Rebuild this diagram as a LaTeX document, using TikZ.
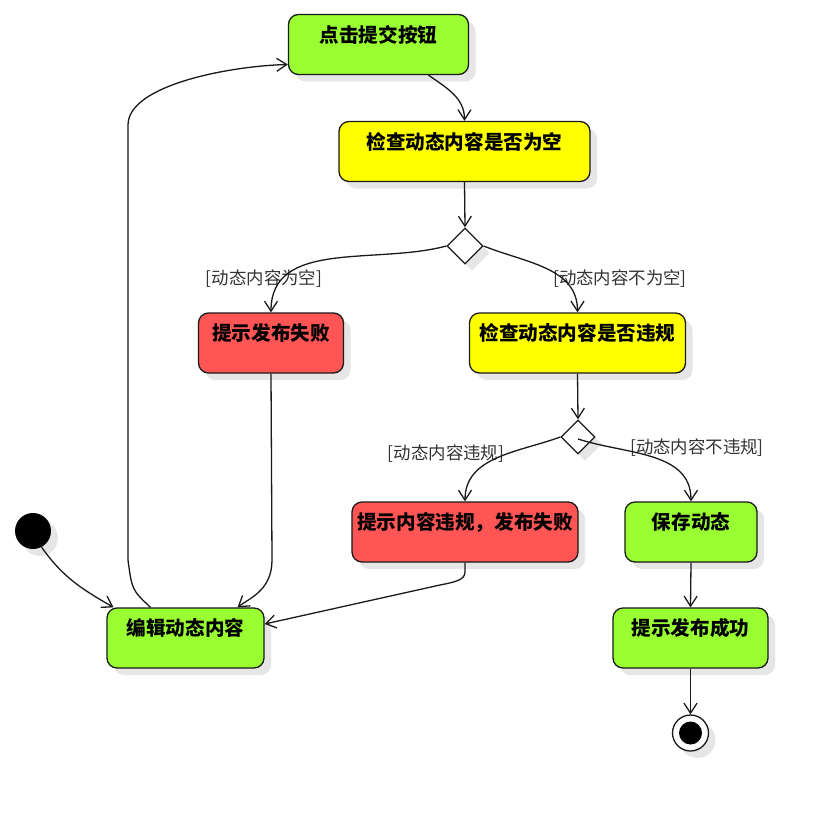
\documentclass[tikz,border=0pt]{standalone}
\usepackage{fontspec}
\setmainfont{Noto Sans CJK SC}
\usetikzlibrary{arrows.meta,shapes.geometric,shadows}
\definecolor{gfill}{HTML}{99FF33}
\definecolor{yfill}{HTML}{FFFF00}
\definecolor{rfill}{HTML}{FF5555}
\definecolor{edge}{HTML}{1A1A1A}
\definecolor{shade}{HTML}{E6E6E6}
\definecolor{txt}{HTML}{333333}
\begin{document}
\begin{tikzpicture}[x=1pt,y=-1pt,
  shadowed/.style={drop shadow={shadow xshift=7pt,shadow yshift=-7pt,fill=shade,opacity=1}},
  box/.style={draw=edge, line width=1.3pt, rounded corners=10pt, minimum height=60pt, inner sep=0pt, shadowed},
  gbox/.style={box, fill=gfill},
  ybox/.style={box, fill=yfill},
  rbox/.style={box, fill=rfill},
  tx/.style={anchor=center, yshift=-21pt, inner sep=0pt, font=\bfseries\fontsize{19.6}{21}\selectfont, text=black},
  dia/.style={diamond, aspect=1, draw=edge, line width=1.3pt, fill=white, inner sep=0pt, minimum width=36pt, minimum height=36pt, shadowed},
  lbl/.style={font=\fontsize{17.4}{19}\selectfont, text=txt, inner sep=0pt},
  arr/.style={draw=edge, line width=1.3pt, -{Straight Barb[length=10pt,width=13pt]}},
]
\useasboundingbox (0,0) rectangle (829,813);
\fill[white] (0,0) rectangle (829,813);

\node[gbox, minimum width=180pt, label={[tx]north:点击提交按钮}] (A) at (378.5,44.5) {};
\node[ybox, minimum width=251pt, label={[tx]north:检查动态内容是否为空}] (B) at (464.5,151.5) {};
\node[dia] (D1) at (465,246) {};
\node[rbox, minimum width=145pt, label={[tx]north:提示发布失败}] (C) at (271,343) {};
\node[ybox, minimum width=216pt, label={[tx]north:检查动态内容是否违规}] (E) at (577.5,343) {};
\node[dia, minimum width=34pt, minimum height=34pt] (D2) at (578,437) {};
\node[rbox, minimum width=226pt, label={[tx]north:提示内容违规，发布失败}] (F) at (465,532) {};
\node[gbox, minimum width=132pt, label={[tx]north:保存动态}] (G) at (691,532) {};
\node[gbox, minimum width=157pt, label={[tx]north:编辑动态内容}] (H) at (185.5,638) {};
\node[gbox, minimum width=155pt, label={[tx]north:提示发布成功}] (I) at (690.5,638) {};
\node[circle, fill=black, minimum size=36pt, inner sep=0pt, shadowed] (S) at (33,531) {};
\node[circle, draw=edge, line width=1.3pt, fill=white, minimum size=36pt, inner sep=0pt, shadowed] (T) at (690.5,733) {};
\node[circle, fill=black, minimum size=23pt, inner sep=0pt] (T2) at (T.center) {};

\node[lbl] (l1) at (264,279) {[动态内容为空]};
\node[lbl] (l2) at (620,279) {[动态内容不为空]};
\node[lbl] (l3) at (446,454) {[动态内容违规]};
\node[lbl] (l4) at (697,448) {[动态内容不违规]};

\coordinate (hA1) at (128,560);
\coordinate (hA2) at (128,125);
\coordinate (cC1) at (272,560);
\coordinate (cF1) at (465,572);
\coordinate (cF2) at (440,585);

\draw[arr] ([xshift=50pt]A.south) to[out=-35,in=90] (B.north);
\draw[arr] (B.south) -- (D1.north);
\draw[arr] (D1.west) to[out=195,in=90] (C.north);
\draw[arr] (D1.east) to[out=-22,in=90] (E.north);
\draw[arr] (E.south) -- (D2.north);
\draw[arr] (D2.west) to[out=200,in=90] (F.north);
\draw[arr] ([yshift=-2pt]D2.center) to[out=-18,in=90] (G.north);
\draw[arr] (G.south) -- (I.north);
\draw[arr] (I.south) -- (T.north);
\draw[arr] (S.-62) to[out=-55,in=150] ([xshift=-72pt]H.north);
\draw[arr] ([xshift=-35pt]H.north) .. controls (132,590) .. (hA1) -- (hA2) .. controls (128,85) and (230,66) .. ([yshift=-20pt]A.west);
\draw[arr] (C.south) -- (cC1) .. controls (272,590) and (250,598) .. ([xshift=52pt]H.north);
\draw[arr] (F.south) -- (cF1) .. controls (465,580) and (455,582) .. (cF2) -- ([yshift=14pt]H.east);
\end{tikzpicture}
\end{document}
